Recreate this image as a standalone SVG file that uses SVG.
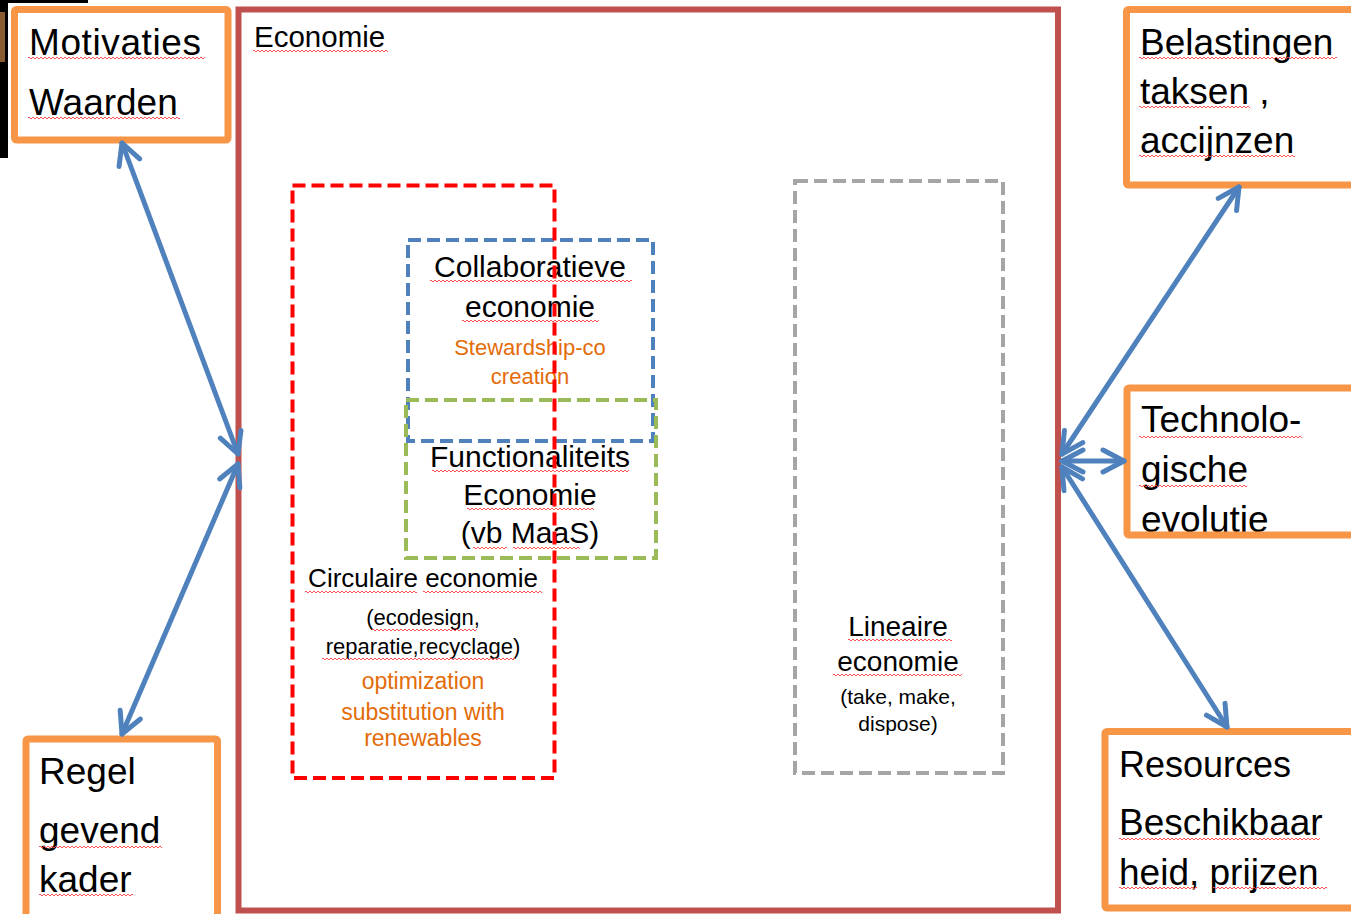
<svg xmlns="http://www.w3.org/2000/svg" width="1351" height="914" viewBox="0 0 1351 914">
<style>
.box{fill:#fff;stroke:#F79646;stroke-width:7}
.frame{fill:#fff;stroke:#C0504D;stroke-width:6}
.dash{fill:none;stroke-width:4;stroke-dasharray:13 6}
.t{font-family:"Liberation Sans",Arial,sans-serif;fill:#000}
.big{font-size:37px}
.mid{font-size:30px}
.c{text-anchor:middle}
.or{fill:#E36C09}
.link{fill:none;stroke:#4F81BD;stroke-width:5;stroke-linecap:round}
.sq{fill:url(#sq)}
</style>
<defs>
<pattern id="sq" patternUnits="userSpaceOnUse" width="4" height="3">
<path d="M0,2 Q1,0 2,2 T4,2" fill="none" stroke="#FF4040" stroke-width="0.9"/>
</pattern>
<marker id="ah" markerUnits="userSpaceOnUse" viewBox="-24 -14 28 28" markerWidth="28" markerHeight="28" refX="0" refY="0" orient="auto-start-reverse">
<path d="M-21,-11 L0,0 L-21,11" fill="none" stroke="#4F81BD" stroke-width="5" stroke-linecap="round" stroke-linejoin="round"/>
</marker>
</defs>
<rect width="1351" height="914" fill="#fff"/>
<g id="corner">
<rect x="0" y="0" width="8" height="158" fill="#000"/>
<rect x="0" y="0" width="88" height="3" fill="#000"/>
<rect x="0" y="12" width="5" height="50" fill="#8a5a30"/>
</g>

<g id="economie">
<rect class="frame" x="238.5" y="9.5" width="819.5" height="901"/>
<text class="t" x="254" y="47" font-size="29.5">Economie</text>
<rect class="sq" transform="translate(253,49)" width="135" height="3"/>
</g>

<g id="motivaties">
<rect class="box" x="14.5" y="9.5" width="213.5" height="130.5" rx="2"/>
<text class="t big" x="29" y="55" textLength="172">Motivaties</text>
<text class="t big" x="29" y="115">Waarden</text>
<rect class="sq" transform="translate(28,56)" width="177" height="3"/>
<rect class="sq" transform="translate(28,116)" width="152" height="3"/>
</g>

<g id="regel">
<rect class="box" x="26" y="739" width="191.5" height="200" rx="2"/>
<text class="t big" x="39" y="784">Regel</text>
<text class="t big" x="39" y="843">gevend</text>
<text class="t big" x="39" y="892">kader</text>
<rect class="sq" transform="translate(39,845)" width="123" height="3"/>
<rect class="sq" transform="translate(39,893)" width="94" height="3"/>
</g>

<g id="belastingen">
<rect class="box" x="1126.5" y="9.5" width="240" height="175.5" rx="2"/>
<text class="t big" x="1140" y="55">Belastingen</text>
<text class="t big" x="1140" y="104">taksen ,</text>
<text class="t big" x="1140" y="153">accijnzen</text>
<rect class="sq" transform="translate(1139,56)" width="198" height="3"/>
<rect class="sq" transform="translate(1139,105)" width="111" height="3"/>
<rect class="sq" transform="translate(1139,154)" width="156" height="3"/>
</g>

<g id="technologische">
<rect x="1127" y="388" width="240" height="147" fill="#fff"/>
<text class="t big" x="1141" y="432">Technolo-</text>
<text class="t big" x="1141" y="482">gische</text>
<text class="t big" x="1141" y="532">evolutie</text>
<rect class="sq" transform="translate(1139,435)" width="163" height="3"/>
<rect class="sq" transform="translate(1139,484)" width="108" height="3"/>
<rect class="sq" transform="translate(1139,533)" width="138" height="3"/>
<rect class="box" x="1127" y="388" width="240" height="147" rx="2" style="fill:none"/>
</g>

<g id="resources">
<rect class="box" x="1105" y="731.5" width="260" height="176.5" rx="2"/>
<text class="t" x="1119" y="777" font-size="36">Resources</text>
<text class="t big" x="1119" y="835">Beschikbaar</text>
<text class="t big" x="1119" y="885">heid, prijzen</text>
<rect class="sq" transform="translate(1119,837)" width="201" height="3"/>
<rect class="sq" transform="translate(1119,886)" width="78" height="3"/>
<rect class="sq" transform="translate(1213,886)" width="114" height="3"/>
</g>

<g id="lineaire">
<rect class="dash" x="795" y="181" width="208" height="592" stroke="#A5A5A5"/>
<text class="t c" x="898" y="636" font-size="28">Lineaire</text>
<text class="t c" x="898" y="671" font-size="28">economie</text>
<text class="t c" x="898" y="704" font-size="21">(take, make,</text>
<text class="t c" x="898" y="731" font-size="21">dispose)</text>
<rect class="sq" transform="translate(848,638)" width="104" height="3"/>
<rect class="sq" transform="translate(833,673)" width="129" height="3"/>
</g>

<g id="collaboratieve">
<rect class="dash" x="408" y="240" width="245" height="201" stroke="#4F81BD"/>
<text class="t c mid" x="530" y="277">Collaboratieve</text>
<text class="t c mid" x="530" y="317">economie</text>
<text class="t c or" x="530" y="355" font-size="22">Stewardship-co</text>
<text class="t c or" x="530" y="384" font-size="22">creation</text>
<rect class="sq" transform="translate(430,279)" width="202" height="3"/>
<rect class="sq" transform="translate(462,319)" width="137" height="3"/>
</g>

<g id="functionaliteits">
<rect class="dash" x="406" y="400" width="250" height="158" stroke="#9BBB59"/>
<text class="t c mid" x="530" y="467">Functionaliteits</text>
<text class="t c mid" x="530" y="505">Economie</text>
<text class="t c mid" x="530" y="543">(vb MaaS)</text>
<rect class="sq" transform="translate(432,469)" width="197" height="3"/>
<rect class="sq" transform="translate(467,507)" width="127" height="3"/>
<rect class="sq" transform="translate(473,546)" width="34" height="3"/>
<rect class="sq" transform="translate(513,546)" width="67" height="3"/>
</g>

<g id="circulaire">
<text class="t c" x="423" y="587" font-size="26">Circulaire economie</text>
<text class="t c" x="423" y="625" font-size="22">(ecodesign,</text>
<text class="t c" x="423" y="654" font-size="22">reparatie,recyclage)</text>
<text class="t c or" x="423" y="689" font-size="23">optimization</text>
<text class="t c or" x="423" y="720" font-size="23">substitution with</text>
<text class="t c or" x="423" y="746" font-size="23">renewables</text>
<rect class="sq" transform="translate(305,590)" width="112" height="3"/>
<rect class="sq" transform="translate(423,590)" width="119" height="3"/>
<rect class="sq" transform="translate(372,628)" width="105" height="3"/>
<rect class="sq" transform="translate(322,657)" width="193" height="3"/>
<rect class="dash" x="292.5" y="185.5" width="262" height="592.5" stroke="#FF0000"/>
</g>

<g id="connectors">
<line class="link" x1="122" y1="143" x2="238" y2="454" marker-start="url(#ah)" marker-end="url(#ah)"/>
<line class="link" x1="122" y1="734" x2="238" y2="464" marker-start="url(#ah)" marker-end="url(#ah)"/>
<line class="link" x1="1239" y1="187" x2="1062" y2="454" marker-start="url(#ah)" marker-end="url(#ah)"/>
<line class="link" x1="1124" y1="461" x2="1062" y2="461" marker-start="url(#ah)" marker-end="url(#ah)"/>
<line class="link" x1="1227" y1="727" x2="1062" y2="467" marker-start="url(#ah)" marker-end="url(#ah)"/>
</g>
</svg>
